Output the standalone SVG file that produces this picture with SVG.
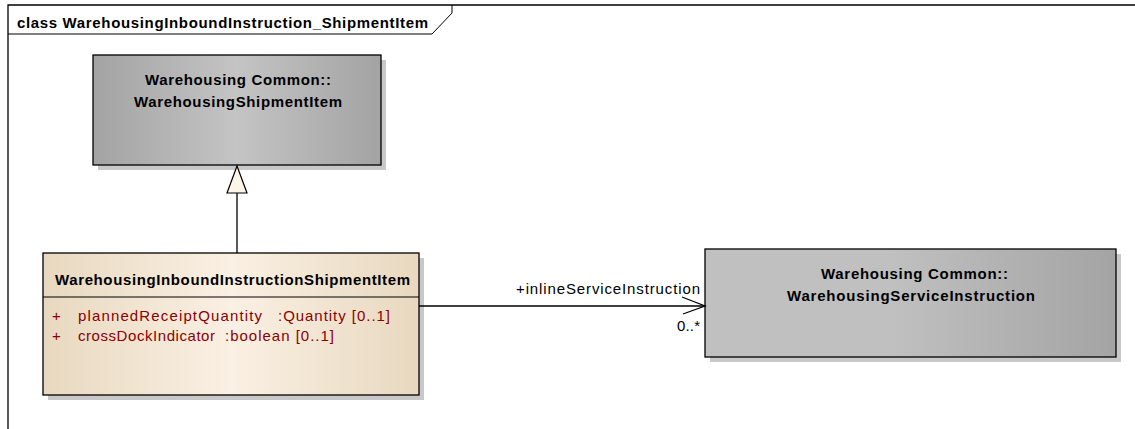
<svg xmlns="http://www.w3.org/2000/svg" width="1135" height="429" viewBox="0 0 1135 429">
<defs>
<linearGradient id="gray" x1="0" y1="0" x2="1" y2="0">
<stop offset="0" stop-color="#a3a3a3"/>
<stop offset="0.5" stop-color="#c4c4c4"/>
<stop offset="1" stop-color="#a3a3a3"/>
</linearGradient>
<linearGradient id="gray2" x1="0" y1="0" x2="1" y2="0">
<stop offset="0" stop-color="#c0c0c0"/>
<stop offset="0.45" stop-color="#c0c0c0"/>
<stop offset="1" stop-color="#a4a4a4"/>
</linearGradient>
<linearGradient id="beige" x1="0" y1="0" x2="1" y2="0">
<stop offset="0" stop-color="#e8d8bf"/>
<stop offset="0.5" stop-color="#faf0e3"/>
<stop offset="1" stop-color="#e8d8bf"/>
</linearGradient>
</defs>
<style>
.shadow{fill:#c8c8c8;}
.box{stroke:#000;stroke-width:1.3;}
.title{font-family:"Liberation Sans",Arial,sans-serif;font-weight:bold;font-size:15px;fill:#000;}
.attr{font-family:"Liberation Sans",Arial,sans-serif;font-size:15px;fill:#8b0000;}
.lbl{font-family:"Liberation Sans",Arial,sans-serif;font-size:15px;fill:#000;}
.line{stroke:#000;stroke-width:1.3;fill:none;}
</style>
<g id="frame">
<path d="M8,429 V5 H1135" fill="none" stroke="#000" stroke-width="1.3"/>
<path d="M8,34 H432 L452,13 V5" fill="none" stroke="#000" stroke-width="1"/>
<text x="17" y="28" class="title" textLength="411" lengthAdjust="spacing">class WarehousingInboundInstruction_ShipmentItem</text>
</g>
<g id="node-shipmentitem">
<rect x="98" y="60" width="288" height="110" class="shadow"/>
<rect x="93" y="55" width="288" height="110" fill="url(#gray)" class="box"/>
<text x="145" y="85" class="title" textLength="186" lengthAdjust="spacing">Warehousing Common::</text>
<text x="134" y="107" class="title" textLength="208" lengthAdjust="spacing">WarehousingShipmentItem</text>
</g>
<g id="node-inbound">
<rect x="48" y="258" width="376" height="142" class="shadow"/>
<rect x="43" y="253" width="376" height="142" fill="url(#beige)" class="box"/>
<line x1="43" y1="297" x2="419" y2="297" stroke="#000" stroke-width="1"/>
<text x="55" y="285" class="title" textLength="355" lengthAdjust="spacing">WarehousingInboundInstructionShipmentItem</text>
<text x="52" y="321" class="attr">+</text>
<text x="78" y="321" class="attr" textLength="184" lengthAdjust="spacing">plannedReceiptQuantity</text>
<text x="278" y="321" class="attr" textLength="112" lengthAdjust="spacing">:Quantity [0..1]</text>
<text x="52" y="341" class="attr">+</text>
<text x="78" y="341" class="attr" textLength="137" lengthAdjust="spacing">crossDockIndicator</text>
<text x="225" y="341" class="attr" textLength="109" lengthAdjust="spacing">:boolean [0..1]</text>
</g>
<g id="node-serviceinstruction">
<rect x="710" y="254" width="411" height="108" class="shadow"/>
<rect x="705" y="249" width="411" height="108" fill="url(#gray2)" class="box"/>
<text x="821" y="279" class="title" textLength="187" lengthAdjust="spacing">Warehousing Common::</text>
<text x="787" y="301" class="title" textLength="248" lengthAdjust="spacing">WarehousingServiceInstruction</text>
</g>
<g id="connectors">
<line x1="237" y1="193" x2="237" y2="253" class="line"/>
<polygon points="237,166 227,193 247,193" fill="#fdf5e8" stroke="#000" stroke-width="1.2"/>
<line x1="419" y1="306" x2="705" y2="306" class="line"/>
<polyline points="682,297 705,306 683,314" class="line"/>
<text x="516" y="294" class="lbl" textLength="184" lengthAdjust="spacing">+inlineServiceInstruction</text>
<text x="677" y="331" class="lbl" textLength="23" lengthAdjust="spacing">0..*</text>
</g>
</svg>
